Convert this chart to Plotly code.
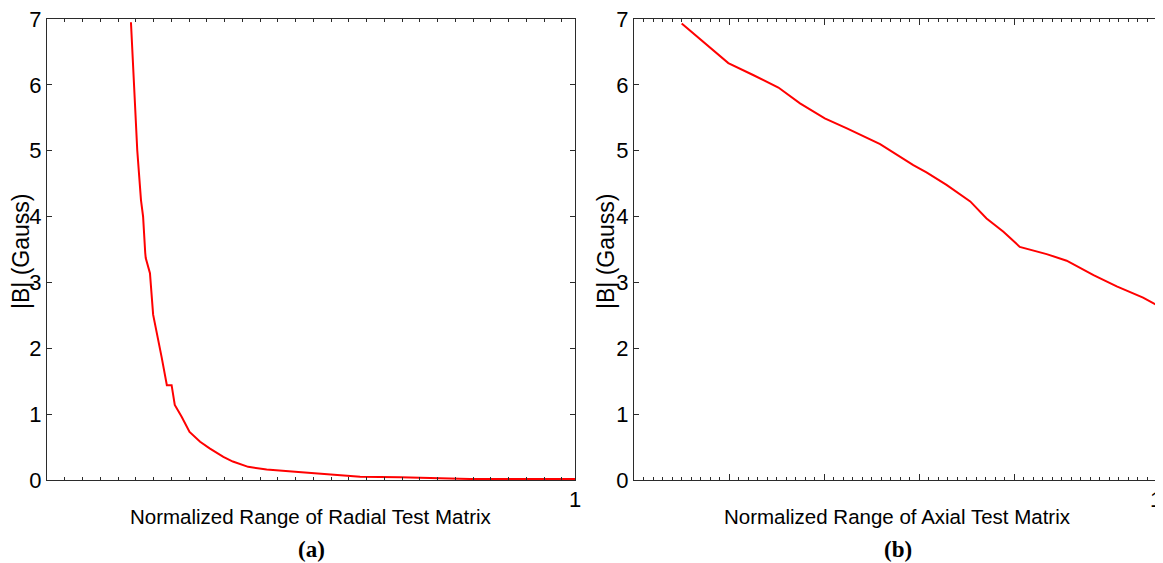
import numpy as np
import plotly.graph_objects as go

# ---- data ----
radial_x = [0.159, 0.165, 0.171, 0.178, 0.182, 0.186, 0.187, 0.195, 0.201, 0.217,
            0.227, 0.236, 0.242, 0.255, 0.261, 0.270, 0.290, 0.308, 0.334, 0.352,
            0.381, 0.416, 0.476, 0.549, 0.593, 0.669, 0.801, 1.0]
radial_b = [6.95, 6.0, 5.0, 4.25, 4.0, 3.45, 3.37, 3.14, 2.51, 1.87,
            1.44, 1.44, 1.14, 0.96, 0.86, 0.73, 0.58, 0.48, 0.35, 0.28,
            0.20, 0.16, 0.12, 0.08, 0.05, 0.04, 0.015, 0.015]

axial_x = [0.0905, 0.179, 0.226, 0.274, 0.315, 0.362, 0.404, 0.429, 0.467, 0.530,
           0.555, 0.593, 0.638, 0.669, 0.701, 0.732, 0.783, 0.821, 0.872, 0.916,
           0.966, 1.0]
axial_b = [6.93, 6.33, 6.15, 5.96, 5.72, 5.49, 5.34, 5.24, 5.10, 4.78,
           4.67, 4.48, 4.23, 3.97, 3.77, 3.54, 3.43, 3.33, 3.11, 2.94,
           2.77, 2.62]

x_titles = ["Normalized Range of Radial Test Matrix", "Normalized Range of Axial Test Matrix"]
panel_labels = ["(a)", "(b)"]
y_title = "|B| (Gauss)"
y_ticks = [0, 1, 2, 3, 4, 5, 6, 7]

# ---- layout constants ----
OFF = 8  # page body margin in the browser
W, H = 1163 - OFF, 563 - OFF

def px_x(p):
    return (p - OFF) / W

def px_y(p):
    return 1 - (p - OFF) / H

left_dom = [px_x(47), px_x(575)]
right_dom = [px_x(634), px_x(1161)]
ydom = [px_y(480), px_y(19)]
axis_col = "#2b2b2b"
tick_font = dict(family="Liberation Sans, Arial", size=22, color="black")
title_font = dict(family="Liberation Sans, Arial", size=20.5, color="black")
ytitle_font = dict(family="Liberation Sans, Arial", size=23, color="black")

def xaxis_cfg(domain, major_step, n_minor, shift=0):
    majors = list(np.arange(0, 1.0 - 1e-6, major_step))
    minor_step = major_step / n_minor
    minors = [v for v in np.arange(0, 1.0, minor_step)]
    vals = majors + [1.0]
    text = [""] * len(majors) + ["1"]
    return dict(domain=domain, range=[0, 1], tickmode="array", tickvals=vals, ticktext=text,
                ticks="inside", ticklen=6, tickwidth=1, tickcolor=axis_col,
                showline=True, linecolor=axis_col, linewidth=1, mirror="allticks",
                showgrid=False, zeroline=False, tickfont=tick_font, automargin=False,
                ticklabeloverflow="allow", ticklabelshift=shift,
                minor=dict(tickmode="array", tickvals=minors, ticks="inside", ticklen=3,
                           tickwidth=1, tickcolor=axis_col, showgrid=False))

def yaxis_cfg(anchor):
    return dict(domain=ydom, range=[0, 7], tickmode="array", tickvals=y_ticks,
                ticktext=[str(v) for v in y_ticks], anchor=anchor,
                ticks="inside", ticklen=5, tickwidth=1, tickcolor=axis_col,
                showline=True, linecolor=axis_col, linewidth=1, mirror="allticks",
                showgrid=False, zeroline=False, tickfont=tick_font, automargin=False,
                ticklabeloverflow="allow")

fig = go.Figure()
fig.add_trace(go.Scatter(x=radial_x, y=radial_b, mode="lines",
                         line=dict(color="#ff0000", width=2), xaxis="x", yaxis="y",
                         showlegend=False))
fig.add_trace(go.Scatter(x=axial_x, y=axial_b, mode="lines",
                         line=dict(color="#ff0000", width=2), xaxis="x2", yaxis="y2",
                         showlegend=False))

fig.update_layout(
    width=W, height=H,
    margin=dict(l=0, r=0, t=0, b=0),
    paper_bgcolor="white", plot_bgcolor="white",
    xaxis=dict(**xaxis_cfg(left_dom, 71 / 528, 4), anchor="y"),
    yaxis=yaxis_cfg("x"),
    xaxis2=dict(**xaxis_cfg(right_dom, 95 / 527, 10, shift=-5), anchor="y2"),
    yaxis2=yaxis_cfg("x2"),
)

annots = []
for dom, xt, pl in [(left_dom, x_titles[0], panel_labels[0]), (right_dom, x_titles[1], panel_labels[1])]:
    cx = (dom[0] + dom[1]) / 2
    annots.append(dict(text=xt, x=cx, y=px_y(516), xref="paper", yref="paper",
                       xanchor="center", yanchor="middle", showarrow=False, font=title_font))
    annots.append(dict(text="<b>" + pl + "</b>", x=cx, y=px_y(549), xref="paper", yref="paper",
                       xanchor="center", yanchor="middle", showarrow=False,
                       font=dict(family="Liberation Serif, Times New Roman", size=23, color="black")))
for p in [21, 606]:
    annots.append(dict(text=y_title, x=px_x(p), y=px_y(252), xref="paper", yref="paper",
                       xanchor="center", yanchor="middle", showarrow=False, textangle=-90,
                       font=ytitle_font))
fig.update_layout(annotations=annots)

fig.write_html("out.html")
